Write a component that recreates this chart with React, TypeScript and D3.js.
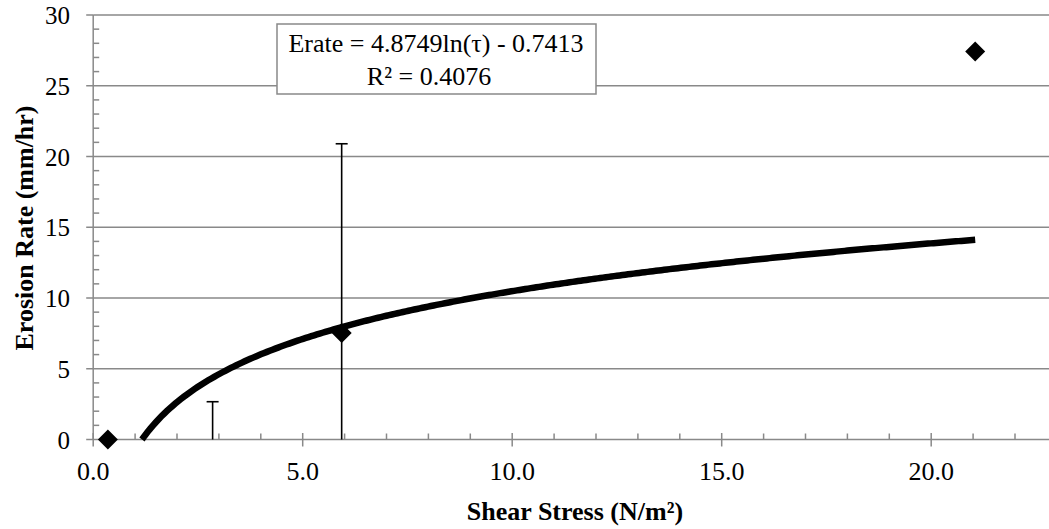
import React from "react";
import * as d3 from "d3";

// ---- data ----
const pointX = [0.35, 5.93, 21.05];
const pointY = [0.0, 7.52, 27.42];
const errX = [2.85, 5.93];
const errLow = [0, 0];
const errHigh = [2.67, 20.9];
const trendA = 4.8749;
const trendB = -0.7413;
const xTicks = [0, 5, 10, 15, 20];
const yTicks = [0, 5, 10, 15, 20, 25, 30];
const eqLine1 = "Erate = 4.8749ln(τ) - 0.7413";
const eqLine2 = "R² = 0.4076";

const W = 1049;
const H = 529;
const X0 = 93.2;
const PX = 41.9;
const XMAX = 23;

export default function App() {
  const x = d3.scaleLinear().domain([0, XMAX]).range([X0, X0 + XMAX * PX]);
  const y = d3.scaleLinear().domain([0, 30]).range([439.5, 15]);
  const grid = "#898989";
  const font = "'Liberation Serif', 'Times New Roman', serif";

  const xStart = Math.exp(-trendB / trendA);
  const xEnd = d3.max(pointX) as number;
  const trendPts = d3.range(0, 301).map((i) => {
    const xv = xStart + ((xEnd - xStart) * i) / 300;
    return [xv, trendA * Math.log(xv) + trendB] as [number, number];
  });
  const line = d3
    .line<[number, number]>()
    .x((d) => x(d[0]))
    .y((d) => y(d[1]))
    .curve(d3.curveLinear);

  const minorX = d3.range(1, XMAX + 1).filter((v) => v % 5 !== 0);
  const majorX = d3.range(0, XMAX + 1, 5);
  const minorY = d3.range(1, 30).filter((v) => v % 5 !== 0);
  const diamond = d3.symbol(d3.symbolSquare, 200)() as string;
  const tStyle = { fontFamily: font };

  return (
    <svg
      width={W}
      height={H}
      style={{ position: "absolute", left: 0, top: 0, background: "#fff", fontFamily: font }}
    >
      <rect x={0} y={0} width={W} height={H} fill="#fff" />
      {/* gridlines */}
      {yTicks
        .filter((v) => v > 0)
        .map((v) => (
          <line key={"g" + v} x1={x(0)} x2={x(XMAX)} y1={y(v)} y2={y(v)} stroke={grid} strokeWidth={1.5} />
        ))}
      {/* y axis */}
      <line x1={x(0)} x2={x(0)} y1={y(0)} y2={y(30)} stroke={grid} strokeWidth={1.5} />
      {yTicks.map((v) => (
        <line key={"yt" + v} x1={x(0) - 7} x2={x(0)} y1={y(v)} y2={y(v)} stroke={grid} strokeWidth={1.5} />
      ))}
      {minorY.map((v) => (
        <line key={"ym" + v} x1={x(0)} x2={x(0) + 6} y1={y(v)} y2={y(v)} stroke={grid} strokeWidth={1.5} />
      ))}
      {/* x axis */}
      <line x1={x(0)} x2={x(XMAX)} y1={y(0)} y2={y(0)} stroke={grid} strokeWidth={1.5} />
      {majorX.map((v) => (
        <line key={"xt" + v} x1={x(v)} x2={x(v)} y1={y(0) - 6.5} y2={y(0) + 7} stroke={grid} strokeWidth={1.5} />
      ))}
      {minorX.map((v) => (
        <line key={"xm" + v} x1={x(v)} x2={x(v)} y1={y(0) - 6} y2={y(0)} stroke={grid} strokeWidth={1.5} />
      ))}
      {/* tick labels */}
      {yTicks.map((v) => (
        <text key={"yl" + v} x={70} y={y(v) + 9} textAnchor="end" fontSize={25} fill="#000" style={tStyle}>
          {String(v)}
        </text>
      ))}
      {xTicks.map((v) => (
        <text key={"xl" + v} x={x(v)} y={480} textAnchor="middle" fontSize={26} fill="#000" style={tStyle}>
          {v.toFixed(1)}
        </text>
      ))}
      {/* error bars */}
      {errX.map((xv, i) => (
        <g key={"e" + i} stroke="#000" strokeWidth={1.6}>
          <line x1={x(xv)} x2={x(xv)} y1={y(errLow[i])} y2={y(errHigh[i])} />
          <line x1={x(xv) - 6} x2={x(xv) + 6} y1={y(errHigh[i])} y2={y(errHigh[i])} />
        </g>
      ))}
      {/* markers */}
      {pointX.map((xv, i) => (
        <path
          key={"p" + i}
          d={diamond}
          transform={`translate(${x(xv)},${y(pointY[i])}) rotate(45)`}
          fill="#000"
        />
      ))}
      {/* trendline */}
      <path d={line(trendPts) as string} fill="none" stroke="#000" strokeWidth={6.5} />
      {/* equation box */}
      <rect x={277} y={24} width={319} height={70} fill="#fff" stroke={grid} strokeWidth={1.5} />
      <text x={436} y={51.7} textAnchor="middle" fontSize={26} fill="#000" style={tStyle}>
        {eqLine1}
      </text>
      <text x={429} y={85} textAnchor="middle" fontSize={26} fill="#000" style={tStyle}>
        {eqLine2}
      </text>
      {/* axis titles */}
      <text x={575} y={520} textAnchor="middle" fontSize={26} fontWeight="bold" fill="#000" style={tStyle}>
        Shear Stress (N/m²)
      </text>
      <text
        transform={`translate(33,228) rotate(-90)`}
        textAnchor="middle"
        fontSize={26}
        fontWeight="bold"
        fill="#000"
        style={tStyle}
      >
        Erosion Rate (mm/hr)
      </text>
    </svg>
  );
}
